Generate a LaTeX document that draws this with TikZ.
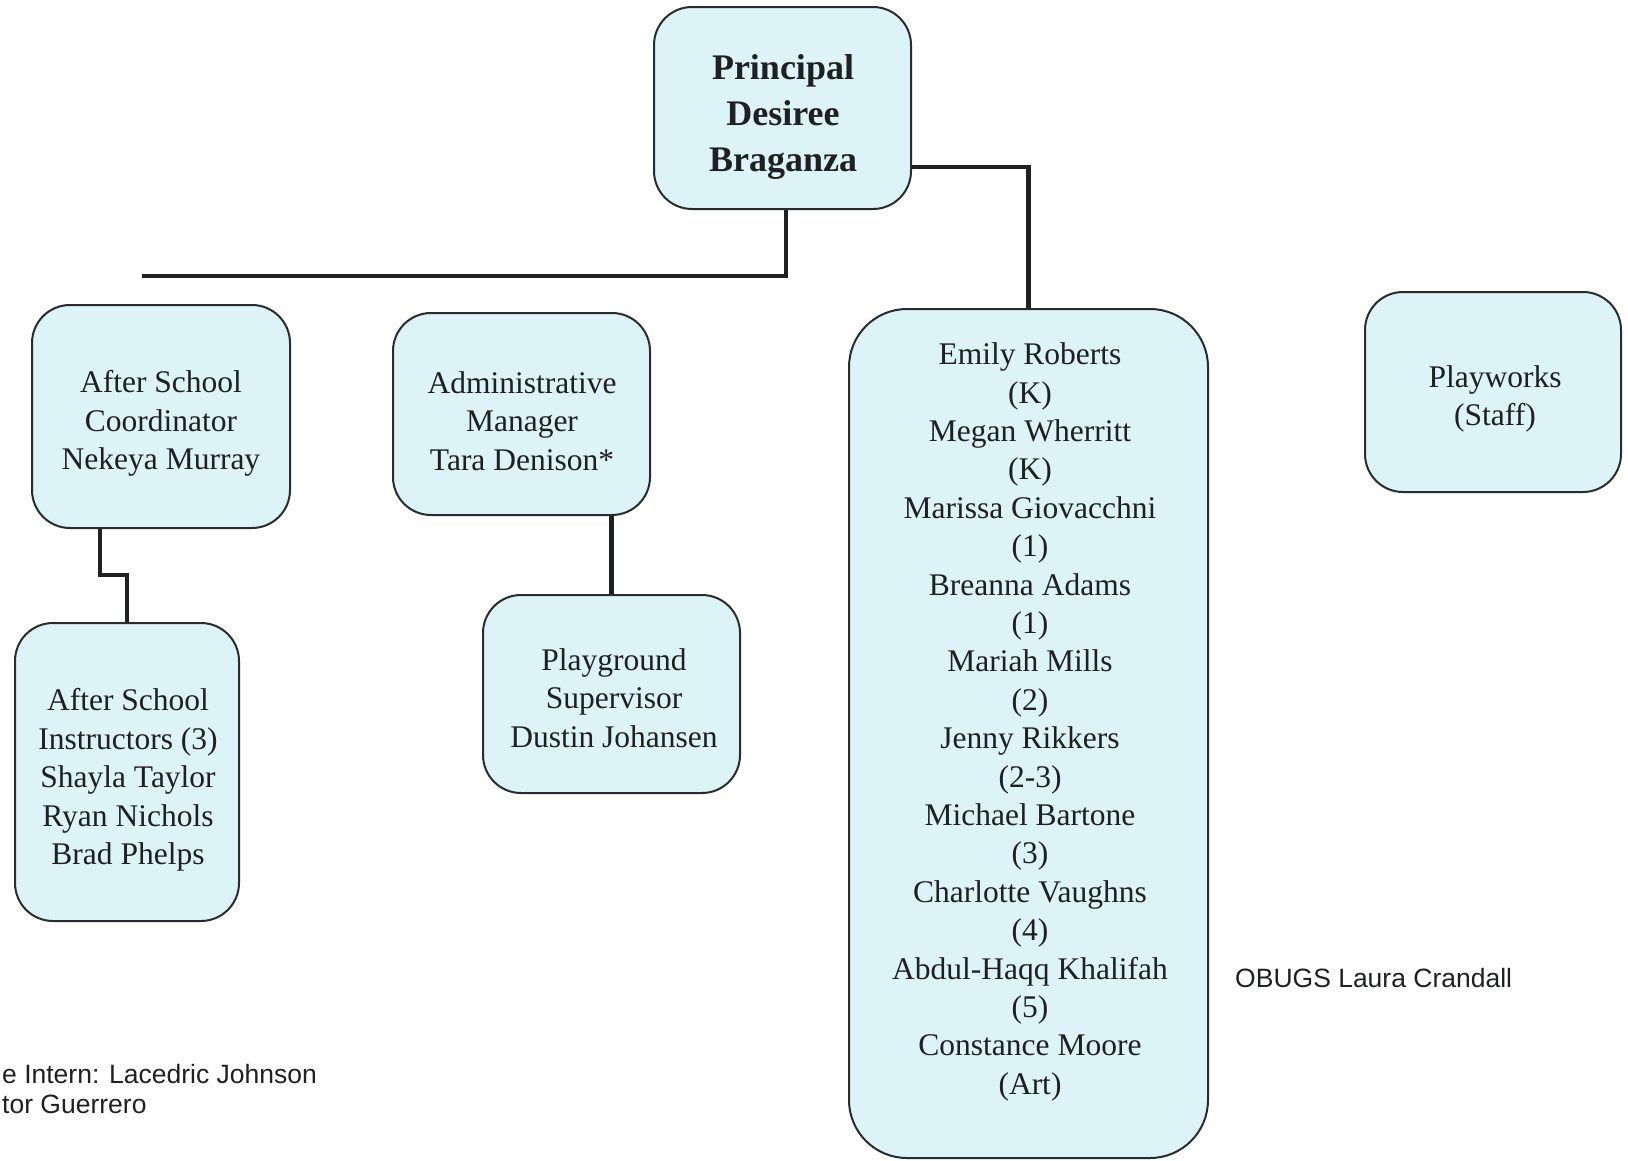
\documentclass[tikz,border=0pt]{standalone}
\usepackage{fontspec}
\setmainfont{Liberation Serif}
\setsansfont{Liberation Sans}
\definecolor{boxfill}{RGB}{220,243,247}
\definecolor{boxline}{RGB}{40,44,46}
\definecolor{ink}{RGB}{30,32,34}
\begin{document}
\begin{tikzpicture}[x=1pt,y=-1pt,
  box/.style={draw=boxline, line width=2pt, fill=boxfill, inner sep=0pt, rounded corners=#1},
  box/.default=38pt,
  txt/.style={align=center, text=ink, inner sep=0pt,
    font=\fontsize{31.5}{38.4}\selectfont},
  boldtxt/.style={align=center, text=ink, inner sep=0pt,
    font=\bfseries\fontsize{36}{45.7}\selectfont},
  note/.style={text=ink, inner sep=0pt, font=\sffamily\fontsize{26.5}{30}\selectfont},
  conn/.style={draw=ink, line width=4.5pt}]
\fill[white] (0,0) rectangle (1628,1160);
\clip (0,0) rectangle (1628,1160);

% boxes
\node[box, minimum width=257pt, minimum height=202pt] (principal) at (782.5,108) {};
\node[box, minimum width=258pt, minimum height=223pt] (coord) at (161,416.5) {};
\node[box, minimum width=257pt, minimum height=202pt] (admin) at (521.5,414) {};
\node[box, minimum width=224pt, minimum height=298pt] (instr) at (127,772) {};
\node[box, minimum width=257pt, minimum height=198pt] (play) at (611.5,694) {};
\node[box=58pt, minimum width=359pt, minimum height=849pt] (teach) at (1028.5,733.5) {};
\node[box, minimum width=256pt, minimum height=200pt] (playworks) at (1493,392) {};

% box texts
\node[boldtxt] (principal-t) at (783,117) {Principal\\Desiree\\Braganza};
\node[txt] (coord-t) at (161,423.5) {After School\\Coordinator\\Nekeya Murray};
\node[txt] (admin-t) at (522,421) {Administrative\\Manager\\Tara Denison*};
\node[txt] (instr-t) at (128,780) {After School\\Instructors (3)\\Shayla Taylor\\Ryan Nichols\\Brad Phelps};
\node[txt] (play-t) at (614,698) {Playground\\Supervisor\\Dustin Johansen};
\node[txt] (teach-t) at (1030,722) {Emily Roberts\\(K)\\Megan Wherritt\\(K)\\Marissa Giovacchni\\(1)\\Breanna Adams\\(1)\\Mariah Mills\\(2)\\Jenny Rikkers\\(2-3)\\Michael Bartone\\(3)\\Charlotte Vaughns\\(4)\\Abdul-Haqq Khalifah\\(5)\\Constance Moore\\(Art)};
\node[txt] (playworks-t) at (1495,399) {Playworks\\(Staff)};

% free-standing notes
\node[note, anchor=base west] (obugs) at (1235,987) {OBUGS Laura Crandall};
\node[note, anchor=base west] (intern) at (2,1083) {e Intern: Lacedric Johnson};
\node[note, anchor=base west] (guerrero) at (2,1113) {tor Guerrero};

% connectors
\coordinate (hl) at (142,276);
\coordinate (rc) at (0,167);
\coordinate (jog) at (100,575);
\draw[conn] ([xshift=3.5pt]principal.south) |- (hl);
\draw[conn] (principal.east |- rc) -| (teach.north);
\draw[conn] (coord.south -| jog) -- (jog) -| (instr.north);
\draw[conn] (play.north) -- (play.north |- admin.south);
\end{tikzpicture}
\end{document}
